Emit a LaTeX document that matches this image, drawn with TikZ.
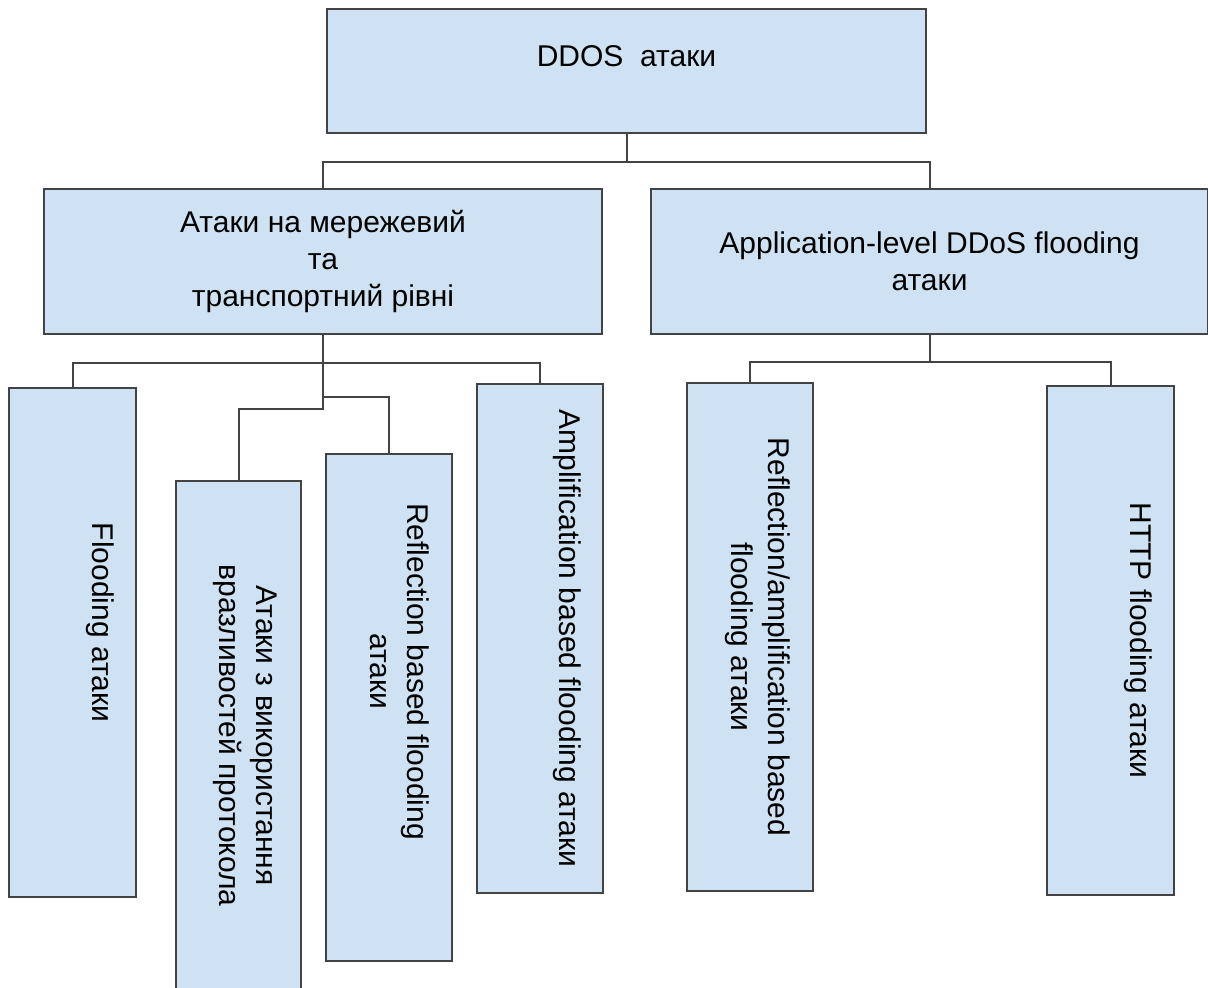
\documentclass[tikz,border=0pt]{standalone}
\usepackage{fontspec}
\setmainfont{Liberation Sans}
\definecolor{boxblue}{HTML}{CFE2F3}
\definecolor{boxline}{HTML}{434343}
\tikzset{
  block/.style={draw=boxline, line width=1pt, fill=boxblue, inner sep=0pt, anchor=north west, font=\fontsize{15pt}{18.5pt}\selectfont},
  root/.style={block, minimum width=299.5pt, minimum height=62pt, text height=10.7pt, text depth=15pt},
  branch/.style={block, minimum width=279pt, minimum height=72.5pt, align=center},
  leaf/.style={block, minimum width=63pt, minimum height=254.5pt},
  leaflbl/.style={rotate=-90, anchor=base, align=center, inner sep=0pt, font=\fontsize{15pt}{18.5pt}\selectfont},
  conn/.style={draw=boxline, line width=1pt}
}
\begin{document}
\begin{tikzpicture}[x=0.5pt, y=-0.5pt]
\useasboundingbox (0,0) rectangle (1208,987);
% top and second level
\node[root] (ddos) at (326,8) {DDOS\ \ атаки};
\node[branch] (netlvl) at (43,188) {Атаки на мережевий\\та\\транспортний рівні};
\node[branch, minimum width=278.5pt] (applvl) at (650,188) {Application-level DDoS flooding\\атаки};
% leaves
\node[leaf, minimum width=63.5pt] (flood) at (8,387) {};
\node[leaf, minimum width=62.5pt] (proto) at (175,480) {};
\node[leaf, minimum height=253.5pt] (refl) at (325,453) {};
\node[leaf] (ampl) at (476,383) {};
\node[leaf, minimum height=254pt] (reflampl) at (686,382) {};
\node[leaf, minimum width=63.5pt] (http) at (1046,385) {};
\node[leaflbl] (floodtxt) at ([xshift=-22.5pt, yshift=10pt]flood.east) {Flooding атаки};
\node[leaflbl] (prototxt) at ([xshift=-41.5pt]proto.east) {Атаки з використання\\вразливостей протокола};
\node[leaflbl] (refltxt) at ([xshift=-41.5pt, yshift=18pt]refl.east) {Reflection based flooding\\атаки};
\node[leaflbl] (ampltxt) at ([xshift=-22.5pt]ampl.east) {Amplification based flooding атаки};
\node[leaflbl] (reflampltxt) at ([xshift=-41.5pt]reflampl.east) {Reflection/amplification based\\flooding атаки};
\node[leaflbl] (httptxt) at ([xshift=-22.5pt]http.east) {HTTP flooding атаки};
% connectors
\draw[conn] (ddos.south) -- ++(0,28) coordinate (s0) -| (netlvl.north);
\draw[conn] (s0) -| (applvl.north);
\draw[conn] (netlvl.south) -- ++(0,28) coordinate (s1) -| (flood.north);
\draw[conn] (s1) -| (ampl.north);
\draw[conn] (s1) -- ++(0,34) coordinate (s2) -| (refl.north);
\draw[conn] (s2) -- ++(0,12) -| (proto.north);
\draw[conn] (applvl.south) -- ++(0,27) coordinate (s3) -| (reflampl.north);
\draw[conn] (s3) -| (http.north);
\end{tikzpicture}
\end{document}
